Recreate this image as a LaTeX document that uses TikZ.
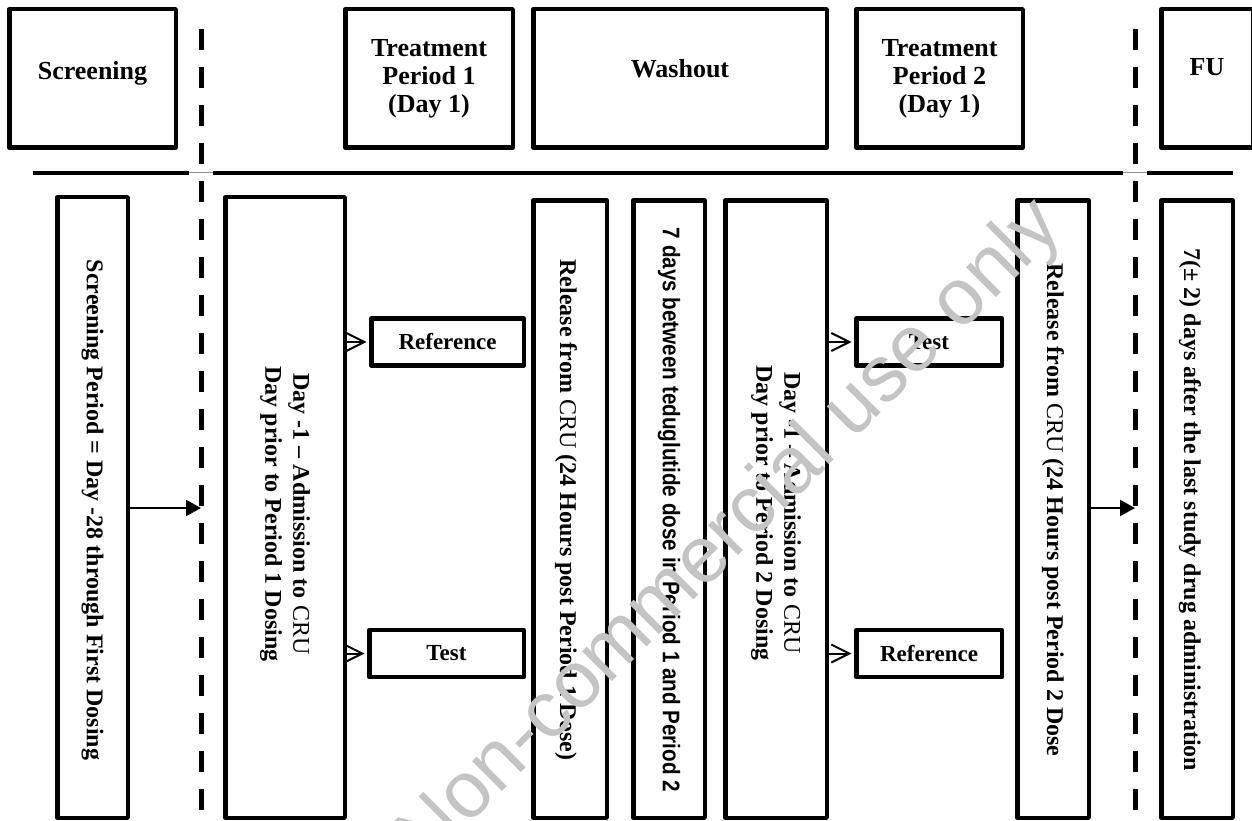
\documentclass[tikz,border=0pt]{standalone}
\usepackage{fontspec}
\setmainfont{Liberation Serif}
\newfontfamily\narrowsans[FakeStretch=0.86]{Liberation Sans}
\newfontfamily\markfont{Liberation Sans}
\usetikzlibrary{arrows.meta, positioning}

\begin{document}
\begin{tikzpicture}[x=1pt, y=-1pt, inner sep=0pt,
      box/.style={draw, line width=4.5pt, line join=round},
      headbox/.style={box, minimum height=138.5pt},
      tallbox/.style={box},
      armbox/.style={box, minimum height=47pt, font=\fontsize{23}{27}\selectfont\bfseries},
      headtext/.style={align=center, font=\fontsize{26}{28}\selectfont\bfseries},
      vtext/.style={rotate=-90, align=center, font=\fontsize{24}{28}\selectfont\bfseries},
      cutline/.style={line width=5pt, dash pattern=on 21pt off 17pt,
        preaction={draw=white, solid, line width=24pt}},
      timeline/.style={line width=4pt},
      smallarrow/.style={line width=2pt, shorten >=2.5pt,
        -{Straight Barb[length=18pt, width=18pt, line width=2pt]}},
      bigarrow/.style={line width=2pt, -{Triangle[length=15pt, width=16pt]}},
      watermark/.style={rotate=45, text=black!23, font=\markfont\fontsize{80}{80}\selectfont}]
      \useasboundingbox (0,0) rectangle (1252,821);
      \clip (0,0) rectangle (1252,821);

      % header row
      \node[headbox, minimum width=166.5pt] (scrhead) at (92.5,78.5) {};
      \node[headbox, minimum width=167.5pt] (tp1head) at (429,78.5) {};
      \node[headbox, minimum width=293.5pt] (washhead) at (680,78.5) {};
      \node[headbox, minimum width=166.5pt] (tp2head) at (939.5,78.5) {};
      \node[headbox, minimum width=91.5pt] (fuhead) at (1207,78.5) {};
      \node[headtext, yshift=5.5pt] (scrlabel) at (scrhead) {Screening};
      \node[headtext] (tp1label) at (tp1head) {Treatment\\Period 1\\(Day 1)};
      \node[headtext, yshift=10pt] (washlabel) at (washhead) {Washout};
      \node[headtext] (tp2label) at (tp2head) {Treatment\\Period 2\\(Day 1)};
      \node[headtext, yshift=11.5pt] (fulabel) at (fuhead) {FU};

      \coordinate (tlleft) at (33,173);
      \coordinate (tlright) at (1233,173);
      \draw[timeline] (tlleft) -- (tlright);

      % period cuts
      \coordinate (cut1top) at (201,29);
      \coordinate (cut1bot) at (201,830);
      \coordinate (cut2top) at (1135,29);
      \coordinate (cut2bot) at (1135,830);
      \draw[cutline] (cut1top) -- (cut1bot);
      \draw[cutline] (cut2top) -- (cut2bot);
      \coordinate (gap1) at (cut1top |- tlleft);
      \coordinate (gap2) at (cut2top |- tlleft);
      \draw[black!45, line width=1pt] (gap1) ++(-12,0) -- ++(24,0);
      \draw[black!45, line width=1pt] (gap2) ++(-12,0) -- ++(24,0);

      % lower row
      \node[tallbox, minimum width=70.5pt, minimum height=620.5pt] (scrbox) at (92.5,507.5) {};
      \node[tallbox, minimum width=119.5pt, minimum height=620.5pt] (adm1box) at (285,507.5) {};
      \node[tallbox, minimum width=73.5pt, minimum height=617.5pt] (rel1box) at (570,509) {};
      \node[tallbox, minimum width=71.5pt, minimum height=617.5pt] (washbox) at (669,509) {};
      \node[tallbox, minimum width=101.5pt, minimum height=617.5pt] (adm2box) at (776,509) {};
      \node[tallbox, minimum width=71.5pt, minimum height=617.5pt] (rel2box) at (1053,509) {};
      \node[tallbox, minimum width=71.5pt, minimum height=617.5pt] (fubox) at (1197,509) {};

      \coordinate (txtrow) at (0,510);
      \node[vtext] (scrtext) at (scrbox |- txtrow) {Screening Period = Day -28 through First Dosing};
      \node[vtext, xshift=4pt] (adm1text) at (adm1box |- txtrow) {Day -1 -- Admission to \textmd{CRU}\\Day prior to Period 1 Dosing};
      \node[vtext, yshift=-4pt] (rel1text) at (rel1box |- txtrow) {Release from \textmd{CRU} (24 Hours post Period 1 Dose)};
      \node[vtext, font=\narrowsans\fontsize{24}{28}\selectfont\bfseries] (washtext) at (washbox |- txtrow)
        {7 days between teduglutide dose in Period 1 and Period 2};
      \node[vtext, xshift=3pt] (adm2text) at (adm2box |- txtrow) {Day -1 -- Admission to \textmd{CRU}\\Day prior to Period 2 Dosing};
      \node[vtext] (rel2text) at (rel2box |- txtrow) {Release from \textmd{CRU} (24 Hours post Period 2 Dose};
      \node[vtext, yshift=-7pt] (futext) at (fubox |- txtrow) {7(± 2) days after the last study drug administration};

      \node[armbox, minimum width=152.5pt] (ref1) at (447.5,342) {Reference};
      \node[armbox, minimum width=154.5pt] (test1) at (446.5,653.5) {Test};
      \node[armbox, minimum width=145.5pt] (test2) at (929,342) {Test};
      \node[armbox, minimum width=145.5pt] (ref2) at (929,653.5) {Reference};

      \path[smallarrow]
      (adm1box.east |- ref1) edge (ref1.west)
      (adm1box.east |- test1) edge (test1.west)
      (adm2box.east |- test2) edge (test2.west)
      (adm2box.east |- ref2) edge (ref2.west);

      \coordinate (arr1) at (cut1top |- 0,508);
      \coordinate (arr2) at (cut2top |- 0,508);
      \draw[bigarrow] (scrbox.east |- arr1) -- (arr1);
      \draw[bigarrow] (rel2box.east |- arr2) -- (arr2);

      \node[watermark] (wm) at (731,534) {Non-commercial use only};
    \end{tikzpicture}
\end{document}
